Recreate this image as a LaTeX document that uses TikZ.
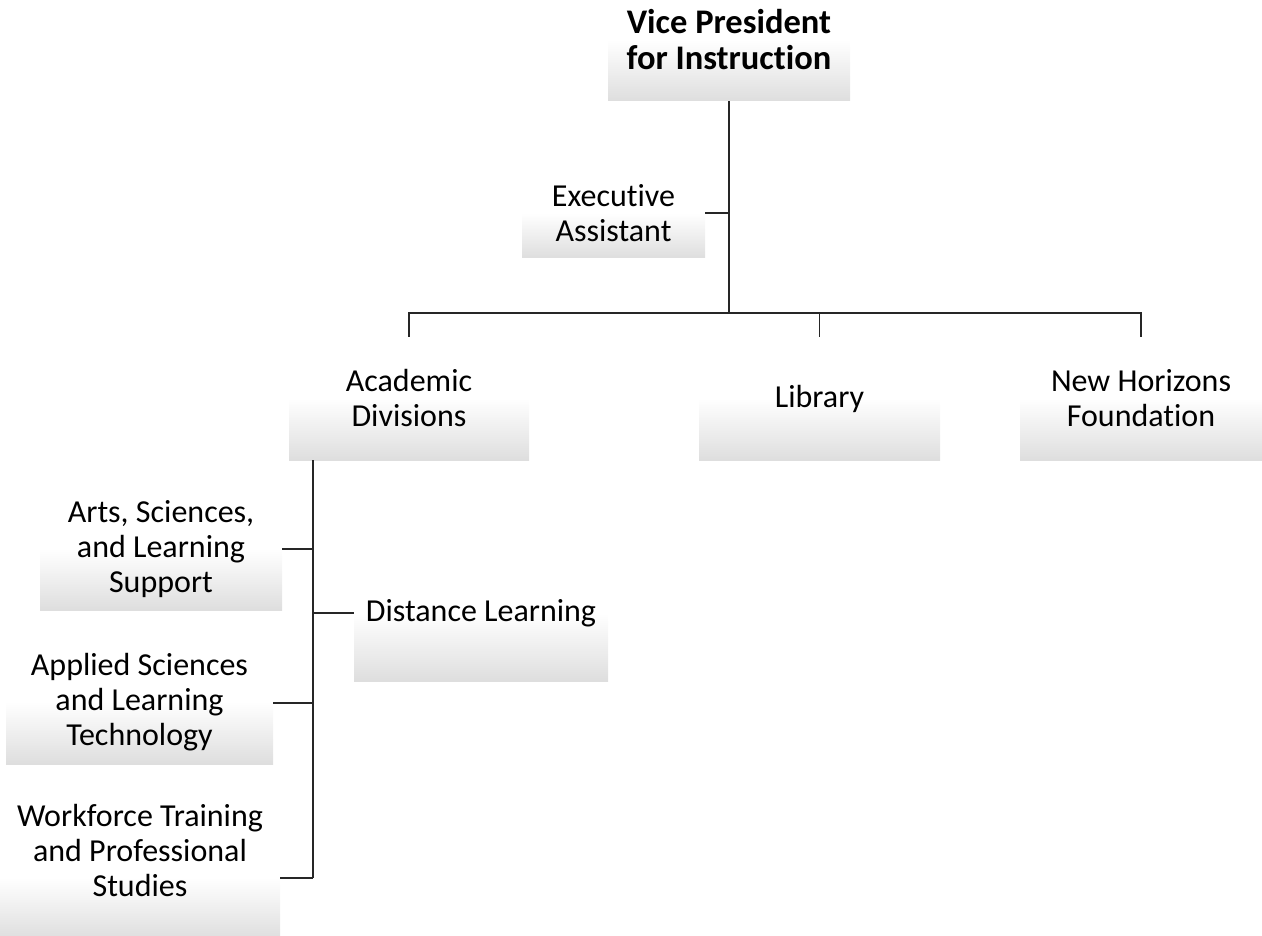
\documentclass[tikz,border=0pt]{standalone}
\usepackage{fontspec}
\setmainfont{Carlito}[Ligatures=NoCommon]
\usetikzlibrary{calc}
\definecolor{boxgray}{gray}{0.87}
\pgfdeclareverticalshading{boxfade}{100bp}{color(0bp)=(boxgray); color(25bp)=(boxgray); color(50bp)=(white); color(100bp)=(white)}

\begin{document}
\begin{tikzpicture}[x=1pt, y=-1pt,
    boxtext/.style={inner sep=0pt, align=center, text=black, font=\fontsize{32}{35}\selectfont},
    box/.style={boxtext, shading=boxfade},
    link/.style={draw=black!85, line width=1.6pt}]
            \clip (0,0) rectangle (1262,936);
            % top level
            \node[box, minimum width=242, minimum height=122, font=\fontsize{34.5}{36}\selectfont\bfseries] (vp) at (729,40) {Vice President\\for Instruction};
            \node[box, minimum width=183, minimum height=90] (ea) at (613.5,213) {Executive\\Assistant};
            \node[box, minimum width=240, minimum height=123] (ad) at (409,398.5) {Academic\\Divisions};
            \node[box, minimum width=241, minimum height=123] (lib) at (819.5,398.5) {Library};
            \node[box, minimum width=242, minimum height=123] (nhf) at (1141,398.5) {New Horizons\\Foundation};
            % divisions
            \node[box, minimum width=242, minimum height=122] (asl) at (161,549) {Arts, Sciences,\\and Learning\\Support};
            \node[box, minimum width=254, minimum height=136] (dl) at (481,613) {Distance Learning};
            \node[box, minimum width=267, minimum height=124] (aslt) at (139.5,702) {Applied Sciences\\and Learning\\Technology};
            \node[box, minimum width=280, minimum height=122,
                  label={[boxtext, yshift=27pt]center:Workforce Training\\and Professional\\Studies}] (wft) at (140,878) {};
            % connectors
            \coordinate (bar) at (729,313);
            \draw[link] (vp.south) -- (bar);
            \draw[link] (ea.east) -- (ea.east -| bar);
            \draw[link] (ad.north) |- (bar) -| (nhf.north);
            \draw[link] (lib.north) -- (lib.north |- bar);
            \coordinate (spine) at ($(ad.south west)+(24,0)$);
            \draw[link] (spine) -- (spine |- wft.east);
            \draw[link] (asl.east) -- (asl.east -| spine);
            \draw[link] (dl.west) -- (dl.west -| spine);
            \draw[link] ([yshift=-1pt]aslt.east) -- ([yshift=-1pt]aslt.east -| spine);
            \draw[link] (wft.east) -- (wft.east -| spine);
        \end{tikzpicture}
\end{document}
